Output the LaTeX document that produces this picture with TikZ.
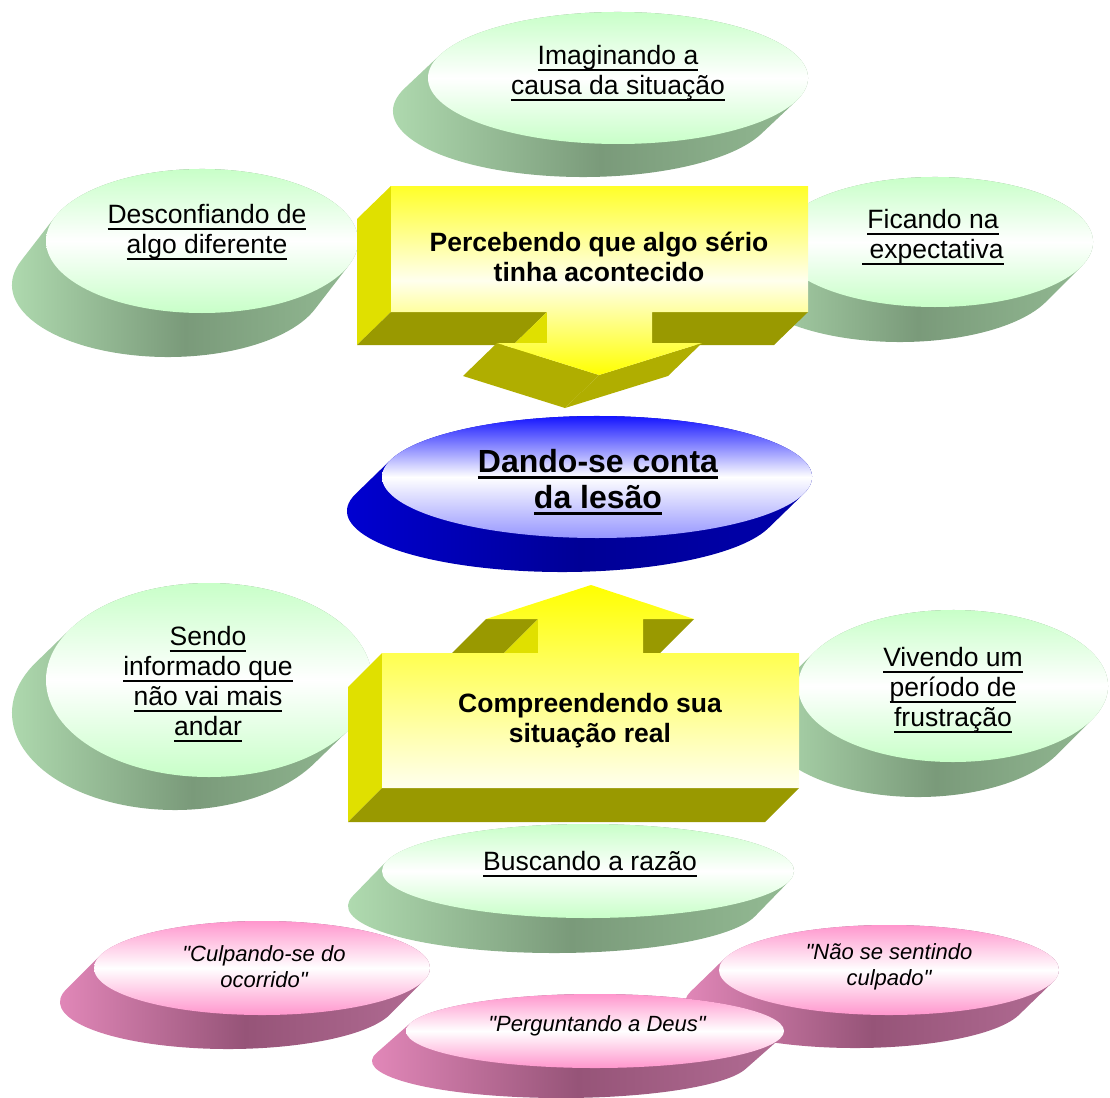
\documentclass[tikz,border=0pt]{standalone}
\usepackage{fontspec}
\setmainfont{Liberation Sans}

% colours of the faces
\definecolor{gface}{RGB}{200,255,200}
\definecolor{gsideL}{RGB}{180,224,180}
\definecolor{gsideM}{RGB}{122,154,122}
\definecolor{gsideR}{RGB}{150,190,150}
\definecolor{pface}{RGB}{255,150,205}
\definecolor{psideL}{RGB}{232,140,190}
\definecolor{psideM}{RGB}{150,84,120}
\definecolor{psideR}{RGB}{180,110,150}
\definecolor{bfaceT}{RGB}{20,20,255}
\definecolor{bfaceB}{RGB}{150,150,255}
\definecolor{bsideL}{RGB}{0,0,215}
\definecolor{bsideM}{RGB}{0,0,150}
\definecolor{bsideR}{RGB}{0,0,175}
\definecolor{ysideC}{RGB}{224,224,0}
\definecolor{ybotC}{RGB}{153,153,0}
\definecolor{yheadC}{RGB}{176,174,0}
\definecolor{ytop}{RGB}{255,255,40}
\definecolor{ycream}{RGB}{255,255,238}

% underlined line with a fixed rule below the baseline
\newcommand\ulx[1]{\setbox0=\hbox{#1}\rlap{\vrule width\wd0 height -4pt depth 6pt}\box0}
\newcommand\ulb[1]{\setbox0=\hbox{#1}\rlap{\vrule width\wd0 height -3.5pt depth 6.5pt}\box0}
\newcommand\qq{\textquotedbl}

% extruded elliptic disc: cx, cy, rx, ry, dx, dy (y downwards), side style, top style
\newcommand\slab[8]{%
  \pgfmathsetmacro\slabT{atan2(-(#4)*(#5),-(#3)*(#6))}%
  \pgfmathsetmacro\slabA{\slabT-180}%
  \pgfmathsetmacro\slabB{\slabT+180}%
  \shade[#7] (#1,-#2) ++(\slabA:#3 and #4)
    arc[start angle=\slabA, end angle=\slabT, x radius=#3, y radius=#4]
    -- ++(#5,-#6)
    arc[start angle=\slabT, end angle=\slabB, x radius=#3, y radius=#4]
    -- cycle;
  \shade[#8] (#1,-#2) ellipse[x radius=#3, y radius=#4];
}

\tikzset{
  gtop/.style={top color=gface, bottom color=gface, middle color=white},
  gside/.style={left color=gsideL, right color=gsideR, middle color=gsideM},
  ptop/.style={top color=pface, bottom color=pface, middle color=white},
  pside/.style={left color=psideL, right color=psideR, middle color=psideM},
  btop/.style={top color=bfaceT, bottom color=bfaceB, middle color=white},
  bside/.style={left color=bsideL, right color=bsideR, middle color=bsideM},
  yside/.style={fill=ysideC},
  ybot/.style={fill=ybotC},
  yhead/.style={fill=yheadC},
  frontdown/.style={top color=ytop, bottom color=yellow, middle color=ycream},
  frontup/.style={top color=yellow, bottom color=ycream},
  lbl/.style={inner sep=0pt, align=center, font=\fontsize{26.5}{30}\selectfont},
  boxlbl/.style={inner sep=0pt, align=center, font=\fontsize{26.5}{30}\selectfont\bfseries},
  hublbl/.style={inner sep=0pt, align=center, font=\fontsize{32}{36}\selectfont\bfseries},
  plbl/.style={inner sep=0pt, align=center, font=\fontsize{22}{26}\selectfont\itshape},
}

\begin{document}
\begin{tikzpicture}[x=1pt,y=1pt]
\useasboundingbox (0,0) rectangle (1110,-1097);

% green discs
\slab{618}{78}{190}{66}{-35}{33}{gside}{gtop}
\node[lbl] (imag) at (618,-73) {\ulx{Imaginando a}\\\ulx{causa da situação}};

\slab{202}{241}{156}{72}{-34}{44}{gside}{gtop}
\node[lbl] (desc) at (207,-232) {\ulx{Desconfiando de}\\\ulx{algo diferente}};

\slab{935}{242}{158}{65}{-35}{35}{gside}{gtop}
\node[lbl] (fica) at (933,-237) {\ulx{Ficando na}\\\ulx{\ expectativa}};

\slab{209}{680}{163}{97}{-34}{33}{gside}{gtop}
\node[lbl] (send) at (208,-684) {\ulx{Sendo}\\\ulx{informado que}\\\ulx{não vai mais}\\\ulx{andar}};

\slab{953}{686}{155}{76}{-35}{35}{gside}{gtop}
\node[lbl] (vive) at (953,-690) {\ulx{Vivendo um}\\\ulx{período de}\\\ulx{frustração}};

\slab{588}{871}{206}{47}{-34}{35}{gside}{gtop}
\node[lbl] (busc) at (590,-864) {\ulx{Buscando a razão}};

% pink discs
\slab{262}{968}{168}{47}{-34}{34}{pside}{ptop}
\node[plbl] (culp) at (264,-967) {\qq Culpando-se do\\ocorrido\qq};

\slab{889}{970}{170}{45}{-34}{33}{pside}{ptop}
\node[plbl] (naos) at (889,-967) {\qq Não se sentindo\\culpado\qq};

\slab{595}{1031}{189}{37}{-34}{30}{pside}{ptop}
\node[plbl] (perg) at (597,-1026) {\qq Perguntando a Deus\qq};

% central blue disc
\slab{597}{477}{215}{61}{-35}{34}{bside}{btop}
\node[hublbl] (hub) at (598,-482) {\ulb{Dando-se conta}\\\ulb{da lesão}};

% upper block with downward arrow
\fill[yside] (357,-219) -- (391,-186) -- (391,-312) -- (357,-345) -- cycle;
\fill[ybot] (391,-312) -- (547,-312) -- (513,-345) -- (357,-345) -- cycle;
\fill[ybot] (652,-312) -- (808,-312) -- (774,-345) -- (618,-345) -- cycle;
\fill[yside] (547,-312) -- (547,-343) -- (513,-376) -- (513,-345) -- cycle;
\fill[yhead] (497,-343) -- (599,-375) -- (565,-408) -- (463,-376) -- cycle;
\fill[yhead] (599,-375) -- (702,-343) -- (668,-376) -- (565,-408) -- cycle;
\shade[frontdown] (391,-186) -- (808,-186) -- (808,-312) -- (652,-312) -- (652,-343)
  -- (702,-343) -- (599,-375) -- (497,-343) -- (547,-343) -- (547,-312) -- (391,-312) -- cycle;
\node[boxlbl] (perc) at (599,-257) {Percebendo que algo sério\\tinha acontecido};

% lower block with upward arrow
\fill[yside] (348,-687) -- (382,-653) -- (382,-788) -- (348,-822) -- cycle;
\fill[ybot] (382,-788) -- (799,-788) -- (765,-822) -- (348,-822) -- cycle;
\fill[ybot] (486,-619) -- (538,-619) -- (504,-653) -- (452,-653) -- cycle;
\fill[yside] (538,-619) -- (538,-653) -- (504,-653) -- cycle;
\fill[ybot] (643,-619) -- (694,-619) -- (660,-653) -- (609,-653) -- cycle;
\shade[frontup] (382,-653) -- (538,-653) -- (538,-619) -- (486,-619) -- (591,-585)
  -- (694,-619) -- (643,-619) -- (643,-653) -- (799,-653) -- (799,-788) -- (382,-788) -- cycle;
\node[boxlbl] (comp) at (590,-721) {Compreendendo sua\\situação real};

\end{tikzpicture}
\end{document}
